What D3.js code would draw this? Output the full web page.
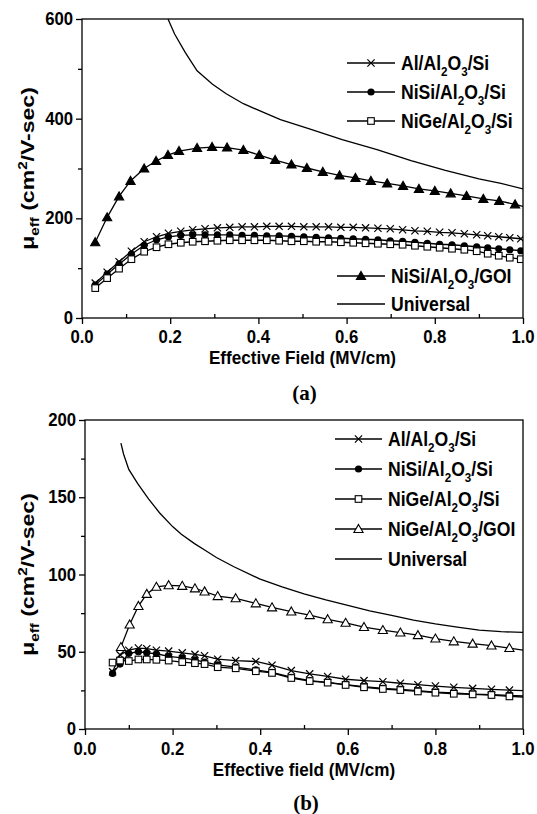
<!DOCTYPE html>
<html><head><meta charset="utf-8">
<script src="https://cdn.jsdelivr.net/npm/d3@7"></script>
<style>
html,body{margin:0;padding:0;background:#fff;}
svg text{font-family:"Liberation Sans",Arial,sans-serif;font-weight:bold;fill:#000;}
</style></head>
<body><svg id="c" width="537" height="814"></svg>
<script>
// ---------- DATA (panel a) ----------
const aX      = [0.03,0.057,0.084,0.112,0.141,0.169,0.196,0.224,0.251,0.279,0.307,0.335,0.363,0.391,0.419,0.447,0.475,0.503,0.531,0.559,0.587,0.615,0.643,0.671,0.699,0.727,0.755,0.783,0.811,0.839,0.867,0.895,0.92,0.945,0.97,0.995];
const aAl     = [70,92,113,134,153,163,170,174,177,179,181,182,183,183,184,184,184,183,183,183,182,182,181,180,179,177,175,174,172,171,169,167,165,163,161,159];
const aNiSi   = [66,88,108,128,146,157,163,166,167,167,167,167,166,166,165,165,164,163,162,161,160,159,158,157,155,154,152,150,148,147,145,143,141,139,137,135];
const aNiGe   = [60,80,99,118,133,142,148,151,153,154,155,156,156,156,156,155,154,154,153,153,152,151,150,149,148,147,145,143,141,139,137,134,129,125,121,118];
const aGoiX   = [0.03,0.057,0.084,0.11,0.141,0.168,0.195,0.22,0.261,0.295,0.329,0.366,0.402,0.438,0.475,0.51,0.546,0.584,0.62,0.655,0.692,0.728,0.764,0.80,0.836,0.872,0.91,0.946,0.982,1.0];
const aGoi    = [152,202,244,275,300,315,327,335,341,343,342,337,327,317,308,301,293,286,281,275,270,265,259,255,250,245,239,235,228,224];
const aUniX   = [0.195,0.21,0.234,0.261,0.296,0.327,0.366,0.405,0.45,0.514,0.59,0.669,0.746,0.824,0.9,0.95,1.0];
const aUni    = [600,570,533,496,469,450,430,415,398,380,358,338,316,296,279,270,259];
// ---------- DATA (panel b) ----------
const bX      = [0.063,0.08,0.10,0.122,0.141,0.163,0.191,0.222,0.251,0.273,0.303,0.344,0.39,0.427,0.471,0.513,0.554,0.595,0.637,0.68,0.72,0.76,0.80,0.842,0.885,0.928,0.969,1.0];
const bAl     = [37,48,51,52.4,52,51,50.4,49.3,48.3,47.4,45.2,44.3,43.7,41.3,37.8,35.7,34,32.2,31.3,30.6,29.6,28.7,27.8,27,26.3,25.7,25.2,24.8];
const bNiSi   = [36,42,49,50,49.3,48.7,47,46,44.8,43.3,41.5,40,38.3,36.7,33.5,31.3,30.2,28.7,27.4,26.3,25.7,24.8,23.9,23.3,22.6,22.2,21.7,21.4];
const bNiGe   = [43,44.3,44,45,45,44.8,44.3,43.3,42.6,42,40,39.3,37.4,36.3,33,31,30,28.5,27,25.9,25.2,24.3,23.5,22.8,22.4,22,21.1,20.7];
const bGoiX   = [0.082,0.102,0.122,0.141,0.163,0.191,0.222,0.251,0.273,0.303,0.344,0.39,0.427,0.471,0.513,0.554,0.595,0.637,0.68,0.72,0.76,0.80,0.842,0.885,0.928,0.969,1.0];
const bGoi    = [53,67.6,79.6,87.4,92,93,92.6,91,89,86,84.6,81.3,78.7,76,73.7,71,68.7,66,64,62.4,60.7,58.5,56.7,55.2,54,52.4,51];
const bUniX   = [0.082,0.088,0.1,0.12,0.145,0.17,0.2,0.22,0.25,0.275,0.3,0.34,0.4,0.45,0.5,0.55,0.6,0.65,0.7,0.75,0.8,0.85,0.9,0.95,1.0];
const bUni    = [185,178,168,159,149,140,131,126,120,115.5,111,105,97,92,87.5,83.5,80,76.5,73.5,70.5,68,66,64,63,62.5];
// ---------- ticks / labels ----------
const xTicks  = [0,0.2,0.4,0.6,0.8,1.0];
const xMinor  = [0.1,0.3,0.5,0.7,0.9];
const aYTicks = [0,200,400,600];
const aYMinor = [100,300,500];
const bYTicks = [0,50,100,150,200];
const bYMinor = [25,75,125,175];

const svg = d3.select("#c");
const sub = (s)=>({t:s,k:"sub"}), sup=(s)=>({t:s,k:"sup"}), n=(s)=>({t:s,k:""});
function rich(sel, parts, fs){
  let shift=0;
  parts.forEach(p=>{
    let target = p.k==="sub"? fs*0.3 : p.k==="sup"? -fs*0.38 : 0;
    const ts = sel.append("tspan").text(p.t).attr("dy", target-shift);
    if(p.k) ts.attr("font-size", fs*0.66);
    shift=target;
  });
}

function marker(g, type, x, y){
  if(type==="x"){
    const s=3.6;
    g.append("path").attr("d",`M${x-s},${y-s}L${x+s},${y+s}M${x-s},${y+s}L${x+s},${y-s}`)
      .attr("stroke","#000").attr("stroke-width",1.2).attr("fill","none");
  } else if(type==="circle"){
    g.append("circle").attr("cx",x).attr("cy",y).attr("r",3.6).attr("fill","#000");
  } else if(type==="square"){
    const s=3.3;
    g.append("rect").attr("x",x-s).attr("y",y-s).attr("width",2*s).attr("height",2*s)
      .attr("fill","#fff").attr("stroke","#000").attr("stroke-width",1.1);
  } else if(type==="tri"||type==="otri"){
    const s=4.6;
    g.append("path").attr("d",`M${x},${y-s}L${x+s},${y+s*0.75}L${x-s},${y+s*0.75}Z`)
      .attr("fill",type==="tri"?"#000":"#fff").attr("stroke","#000").attr("stroke-width",1.1);
  }
}

const SX = 0.88; // horizontal condensing of the original typeface

function panel(cfg){
  const x = d3.scaleLinear().domain([0,1]).range([cfg.left,cfg.right]);
  const y = d3.scaleLinear().domain([0,cfg.yMax]).range([cfg.bottom,cfg.top]);
  const id = "clip"+cfg.name;
  svg.append("clipPath").attr("id",id).append("rect")
    .attr("x",cfg.left).attr("y",cfg.top).attr("width",cfg.right-cfg.left).attr("height",cfg.bottom-cfg.top);
  const plot = svg.append("g").attr("clip-path",`url(#${id})`);
  const line = d3.line().x(d=>x(d[0])).y(d=>y(d[1]));
  cfg.series.forEach(s=>{
    const pts = s.xs.map((v,i)=>[v,s.ys[i]]);
    plot.append("path").attr("d",line(pts)).attr("fill","none").attr("stroke","#000").attr("stroke-width",1.3);
  });
  cfg.series.forEach(s=>{
    if(!s.m) return;
    s.xs.forEach((v,i)=>{ if(v<1) marker(plot,s.m,x(v),y(s.ys[i])); });
  });
  svg.append("rect").attr("x",cfg.left).attr("y",cfg.top).attr("width",cfg.right-cfg.left).attr("height",cfg.bottom-cfg.top)
    .attr("fill","none").attr("stroke","#000").attr("stroke-width",1.3);
  // axes
  const xa = svg.append("g").attr("transform",`translate(0,${cfg.bottom})`)
    .call(d3.axisBottom(x).tickValues(xTicks).tickSize(6).tickFormat(""));
  const xm = svg.append("g").attr("transform",`translate(0,${cfg.bottom})`)
    .call(d3.axisTop(x).tickValues(xMinor).tickSize(4).tickFormat(""));
  const ya = svg.append("g").attr("transform",`translate(${cfg.left},0)`)
    .call(d3.axisLeft(y).tickValues(cfg.yTicks).tickSize(6).tickFormat(""));
  const ym = svg.append("g").attr("transform",`translate(${cfg.left},0)`)
    .call(d3.axisLeft(y).tickValues(cfg.yMinor).tickSize(4).tickFormat(""));
  [xa,xm,ya,ym].forEach(g=>{
    g.select(".domain").remove();
    g.selectAll("line").attr("stroke","#000").attr("stroke-width",1.3);
  });
  const fx = d3.format(".1f");
  xTicks.forEach(v=>{
    svg.append("text").attr("text-anchor","middle").attr("font-size",19)
      .attr("transform",`translate(${x(v)},${cfg.bottom+cfg.xLabDy}) scale(${SX},1)`).text(fx(v));
  });
  cfg.yTicks.forEach(v=>{
    svg.append("text").attr("text-anchor","end").attr("font-size",19)
      .attr("transform",`translate(${cfg.left-9},${y(v)+6}) scale(${SX},1)`).text(d3.format("d")(v));
  });
  // axis titles
  svg.append("text").attr("text-anchor","middle").attr("font-size",19)
    .attr("transform",`translate(${(cfg.left+cfg.right)/2},${cfg.bottom+cfg.titleDy}) scale(0.9,1)`).text(cfg.xTitle);
  svg.append("text").attr("x",(cfg.left+cfg.right)/2 + 2).attr("y",cfg.bottom+cfg.tagDy).attr("text-anchor","middle")
    .attr("font-size",21).style("font-family","Liberation Serif, Times New Roman, serif").text(cfg.tag);
  const yl = svg.append("text").attr("text-anchor","middle").attr("font-size",18)
    .attr("transform",`translate(${cfg.yLabX},${(cfg.top+cfg.bottom)/2}) rotate(-90) scale(1.28,1)`);
  rich(yl,[n("\u03bc"),sub("eff"),n(" (cm"),sup("2"),n("/V-sec)")],18);
  // legends
  cfg.legend.forEach(L=>{
    L.items.forEach((it,i)=>{
      const yy = L.y + i*L.dy;
      svg.append("line").attr("x1",L.x).attr("x2",L.x+L.len).attr("y1",yy).attr("y2",yy)
        .attr("stroke","#000").attr("stroke-width",1.3);
      if(it.m) marker(svg,it.m,L.x+L.len/2,yy);
      const t = svg.append("text").attr("font-size",20)
        .attr("transform",`translate(${L.x+L.len+6},${yy+7}) scale(${SX},1)`);
      rich(t,it.label,20);
    });
  });
}

const lbl = {
  al:[n("Al/Al"),sub("2"),n("O"),sub("3"),n("/Si")],
  nisi:[n("NiSi/Al"),sub("2"),n("O"),sub("3"),n("/Si")],
  nige:[n("NiGe/Al"),sub("2"),n("O"),sub("3"),n("/Si")],
  nisigoi:[n("NiSi/Al"),sub("2"),n("O"),sub("3"),n("/GOI")],
  nigegoi:[n("NiGe/Al"),sub("2"),n("O"),sub("3"),n("/GOI")],
  uni:[n("Universal")]
};

panel({name:"a",left:82,right:523,top:19,bottom:318,yMax:600,yTicks:aYTicks,yMinor:aYMinor,
  xTitle:"Effective Field (MV/cm)",tag:"(a)",yLabX:34,xLabDy:25,titleDy:46,tagDy:82,
  series:[
    {xs:aUniX,ys:aUni,m:null},
    {xs:aGoiX,ys:aGoi,m:"tri"},
    {xs:aX,ys:aAl,m:"x"},
    {xs:aX,ys:aNiSi,m:"circle"},
    {xs:aX,ys:aNiGe,m:"square"}
  ],
  legend:[
    {x:347,len:48,y:63,dy:29,items:[{m:"x",label:lbl.al},{m:"circle",label:lbl.nisi},{m:"square",label:lbl.nige}]},
    {x:337,len:48,y:276,dy:28,items:[{m:"tri",label:lbl.nisigoi},{m:null,label:lbl.uni}]}
  ]});

panel({name:"b",left:85,right:523,top:420,bottom:729,yMax:200,yTicks:bYTicks,yMinor:bYMinor,
  xTitle:"Effective field (MV/cm)",tag:"(b)",yLabX:34,xLabDy:26,titleDy:47,tagDy:81,
  series:[
    {xs:bUniX,ys:bUni,m:null},
    {xs:bGoiX,ys:bGoi,m:"otri"},
    {xs:bX,ys:bAl,m:"x"},
    {xs:bX,ys:bNiSi,m:"circle"},
    {xs:bX,ys:bNiGe,m:"square"}
  ],
  legend:[
    {x:335,len:47,y:439,dy:30,items:[{m:"x",label:lbl.al},{m:"circle",label:lbl.nisi},{m:"square",label:lbl.nige},{m:"otri",label:lbl.nigegoi},{m:null,label:lbl.uni}]}
  ]});
</script></body></html>
